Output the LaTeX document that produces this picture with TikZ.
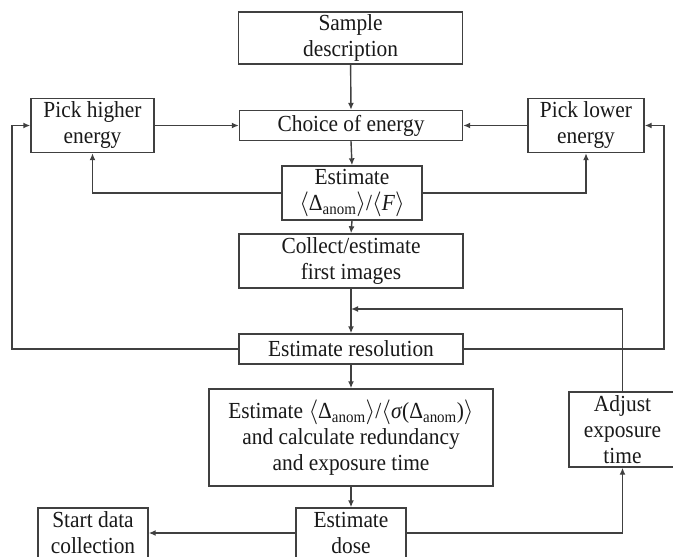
\documentclass[tikz,border=0pt]{standalone}
\usepackage{fontspec}
\setmainfont[FakeStretch=0.93]{Liberation Serif}
\usetikzlibrary{arrows.meta}
\definecolor{linec}{gray}{0.25}
\newcommand{\myla}{\ensuremath{\langle}}
\newcommand{\myra}{\ensuremath{\rangle}}
\newcommand{\myDan}{Δ\textsubscript{anom}}
\begin{document}
\begin{tikzpicture}[x=1pt,y=-1pt,
  box/.style={draw=linec, line width=1.4pt, fill=white, align=center, inner sep=0pt,
    text=black!90, font=\fontsize{23}{26}\selectfont},
  arr/.style={draw=linec, line width=1.4pt, -{Latex[length=7pt,width=6pt]}},
  ln/.style={draw=linec, line width=1.4pt}]
\useasboundingbox (0,0) rectangle (673,557);

\node[box, minimum width=224pt, minimum height=52pt] (sample) at (350.6,38) {Sample\\description};
\node[box, minimum width=223pt, minimum height=30pt] (choice) at (351,125.5) {Choice of energy};
\node[box, minimum width=123pt, minimum height=54pt] (higher) at (92.5,125.5) {Pick higher\\energy};
\node[box, minimum width=116pt, minimum height=54pt] (lower) at (586,125.5) {Pick lower\\energy};
\node[box, minimum width=140pt, minimum height=54pt] (est1) at (352,193) {Estimate\\\myla\myDan\myra/\myla\textit{F}\myra};
\node[box, minimum width=224pt, minimum height=54pt] (collect) at (351,261) {Collect/estimate\\first images};
\node[box, minimum width=224pt, minimum height=30pt] (res) at (351,349) {Estimate resolution};
\node[box, minimum width=284pt, minimum height=97pt] (est2) at (351,437.5) {Estimate \myla\myDan\myra/\myla\textit{σ}(\myDan)\myra\\and calculate redundancy\\and exposure time};
\node[box, minimum width=107pt, minimum height=75pt] (adjust) at (622.5,429.5) {Adjust\\exposure\\time};
\node[box, minimum width=110pt, minimum height=50pt] (start) at (93,533) {Start data\\collection};
\node[box, minimum width=110pt, minimum height=50pt] (dose) at (351,533) {Estimate\\dose};

\coordinate (j) at (351,309);
\coordinate (lo) at (12,349);
\coordinate (ro) at (664,349);

\draw[arr] (sample.south) -- (choice.north);
\draw[arr] (higher.east) -- (choice.west);
\draw[arr] (lower.west) -- (choice.east);
\draw[arr] (choice.south) -- (est1.north);
\draw[arr] (est1.west) -| (higher.south);
\draw[arr] (est1.east) -| (lower.south);
\draw[arr] (est1.south) -- (collect.north);
\draw[arr] (collect.south) -- (res.north);
\draw[arr] (adjust.north) |- (j);
\draw[arr] (res.west) -- (lo) |- (higher.west);
\draw[arr] (res.east) -- (ro) |- (lower.east);
\draw[arr] (res.south) -- (est2.north);
\draw[arr] (est2.south) -- (dose.north);
\draw[arr] (dose.west) -- (start.east);
\draw[arr] (dose.east) -| (adjust.south);
\end{tikzpicture}
\end{document}
